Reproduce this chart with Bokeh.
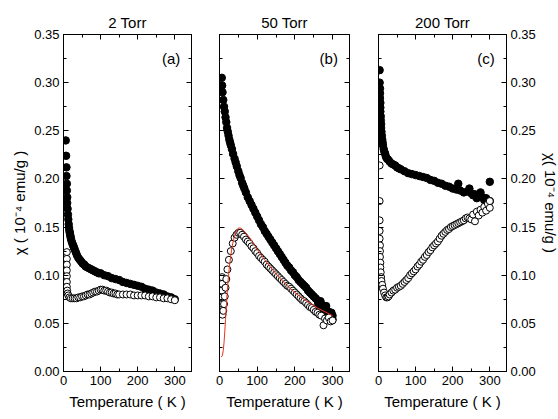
from bokeh.plotting import figure
from bokeh.layouts import row
from bokeh.models import Range1d, LinearAxis, FixedTicker, CustomJSTickFormatter, PrintfTickFormatter, Label
from bokeh.embed import file_html
from bokeh.resources import INLINE

FONT = "Liberation Sans"

titles = ["2 Torr", "50 Torr", "200 Torr"]
panel_tags = ["(a)", "(b)", "(c)"]
x_label = "Temperature ( K )"
y_label_left = "χ ( 10⁻⁴ emu/g )"
y_label_right = "χ( 10⁻⁴ emu/g )"
x_ticks = [0, 100, 200, 300]
x_minor = [50, 150, 250]
y_ticks = [0.00, 0.05, 0.10, 0.15, 0.20, 0.25, 0.30, 0.35]
y_minor = [0.025, 0.075, 0.125, 0.175, 0.225, 0.275, 0.325]

# panel (a) 2 Torr
Ta_fill = [6, 7, 8, 8, 9, 9, 10, 10, 11, 12, 13, 14, 15, 16, 17, 18, 19, 20, 22, 24, 26, 28, 30,
           33, 36, 40, 44, 48, 52, 56, 60, 65, 70, 75, 80, 85, 90, 95, 100,
           110, 120, 130, 140, 150, 160, 170, 180, 190, 200, 210, 220, 230,
           240, 250, 260, 270, 280, 290, 300]
Xa_fill = [0.240, 0.224, 0.212, 0.203, 0.195, 0.188, 0.181, 0.175, 0.169, 0.163, 0.158, 0.153,
           0.149, 0.146, 0.144, 0.142, 0.140, 0.138, 0.135, 0.133, 0.131, 0.129, 0.127,
           0.124, 0.121, 0.118, 0.116, 0.114, 0.112, 0.111, 0.109, 0.108, 0.107, 0.106, 0.105,
           0.104, 0.103, 0.102, 0.102,
           0.100, 0.099, 0.097, 0.096, 0.095, 0.093, 0.092, 0.091, 0.090, 0.089, 0.088, 0.086,
           0.085, 0.084, 0.082, 0.081, 0.080, 0.078, 0.077, 0.075]
Ta_open = [9, 9, 9, 9, 9, 9, 9, 10, 11, 13, 16, 20, 25, 30, 35,
           40, 45, 50, 55, 60, 65, 70, 75, 80, 85, 90, 95, 100, 105, 110, 115, 120, 125, 130,
           135, 140, 145, 150, 160, 170, 180, 190, 200, 210, 220, 230, 240, 250, 260, 270, 280, 290, 300]
Xa_open = [0.124, 0.117, 0.111, 0.105, 0.099, 0.093, 0.088, 0.084, 0.081, 0.079, 0.077, 0.076,
           0.076, 0.076, 0.076,
           0.077, 0.077, 0.078, 0.078, 0.079, 0.080, 0.080, 0.081, 0.082, 0.083, 0.083, 0.084,
           0.085, 0.085, 0.084, 0.084, 0.083, 0.082, 0.082, 0.081, 0.081, 0.080, 0.080,
           0.080, 0.080, 0.080, 0.079, 0.079, 0.079, 0.079, 0.078, 0.078, 0.077, 0.077, 0.076,
           0.076, 0.075, 0.074]

# panel (b) 50 Torr
Tb_fill = [6, 7, 8, 10, 12, 14, 16, 18, 20, 22, 24, 26, 28, 30, 33, 36, 40, 43, 46, 50, 53, 56,
           60, 63, 66, 70, 75, 80, 85, 90, 95, 100, 105, 110, 115, 120, 125, 130, 135, 140,
           145, 150, 155, 160, 165, 170, 175, 180, 185, 190, 195, 200, 205, 210, 215, 220,
           225, 230, 235, 240, 245, 250, 255, 260, 262, 265, 268, 270, 275, 278, 280, 283,
           285, 290, 292, 295, 297, 300, 300]
Xb_fill = [0.305, 0.297, 0.290, 0.282, 0.275, 0.270, 0.264, 0.259, 0.253, 0.249, 0.245, 0.241,
           0.238, 0.235, 0.231, 0.226, 0.221, 0.217, 0.213, 0.208, 0.204, 0.201,
           0.196, 0.193, 0.190, 0.186, 0.181, 0.177, 0.173, 0.169, 0.165, 0.161, 0.157, 0.153,
           0.150, 0.146, 0.143, 0.140, 0.137, 0.134, 0.131, 0.128, 0.125, 0.122, 0.119, 0.116,
           0.113, 0.110, 0.108, 0.105, 0.103, 0.100, 0.098, 0.095, 0.093, 0.091, 0.089, 0.087,
           0.084, 0.082, 0.080, 0.078, 0.076, 0.074, 0.071, 0.069, 0.073, 0.070, 0.066, 0.063,
           0.066, 0.068, 0.060, 0.062, 0.059, 0.056, 0.061, 0.058, 0.054]
Tb_open = [7, 7, 7, 7, 7, 7, 8, 10, 12, 14, 16, 18, 21, 25,
           30, 35, 40, 45, 50, 55, 60, 65, 70, 75, 80, 85, 90, 95, 100, 105, 110, 115, 120,
           125, 130, 135, 140, 145, 150, 155, 160, 165, 170, 175, 180, 185, 190, 195, 200,
           205, 210, 215, 220, 225, 230, 235, 240, 245, 250, 255, 260, 265, 270,
           276, 280, 285, 290, 295, 300]
Xb_open = [0.098, 0.091, 0.084, 0.077, 0.070, 0.064, 0.059, 0.063, 0.070, 0.078, 0.087, 0.096,
           0.106, 0.116,
           0.125, 0.133, 0.139, 0.142, 0.144, 0.144, 0.142, 0.140, 0.137, 0.135, 0.133, 0.130,
           0.128, 0.125, 0.123, 0.120, 0.118, 0.116, 0.114, 0.111, 0.109, 0.107, 0.105, 0.103,
           0.101, 0.099, 0.097, 0.095, 0.093, 0.091, 0.089, 0.088, 0.086, 0.084, 0.082, 0.080,
           0.078, 0.076, 0.074, 0.073, 0.071, 0.069, 0.067, 0.066, 0.064, 0.062, 0.061, 0.059,
           0.058, 0.048, 0.055, 0.053, 0.056, 0.052, 0.053]
Tb_fit = [5, 8, 10, 12, 14, 16, 18, 20, 23, 26, 30, 35, 40, 45, 50, 55, 60, 70, 80, 90, 100,
          120, 140, 160, 180, 200, 220, 240, 260, 280, 300]
Xb_fit = [0.015, 0.017, 0.022, 0.030, 0.041, 0.054, 0.067, 0.080, 0.095, 0.108, 0.121, 0.133, 0.141,
          0.146, 0.149, 0.149, 0.148, 0.144, 0.139, 0.133, 0.127,
          0.116, 0.106, 0.097, 0.089, 0.082, 0.076, 0.071, 0.066, 0.062, 0.058]

# panel (c) 200 Torr
Tc_fill = [3, 3, 4, 4, 4, 5, 5, 5, 6, 6, 7, 7, 8, 9, 10, 11, 12, 14, 16, 18, 20, 23, 26, 30,
           35, 40, 45, 50, 55, 60, 70, 80, 90, 100, 110, 120, 130, 140, 150, 160, 170, 180,
           190, 200, 210, 215, 220, 230, 240, 245, 250, 255, 260, 265, 270, 275, 280, 285,
           290, 295, 300, 300]
Xc_fill = [0.313, 0.300, 0.294, 0.289, 0.284, 0.279, 0.274, 0.270, 0.265, 0.261, 0.257, 0.253,
           0.249, 0.245, 0.241, 0.238, 0.235, 0.231, 0.228, 0.226, 0.223, 0.221, 0.220, 0.218,
           0.216, 0.215, 0.214, 0.212, 0.211, 0.210, 0.208, 0.206, 0.205, 0.204, 0.203, 0.202,
           0.201, 0.199, 0.198, 0.196, 0.195, 0.193, 0.192, 0.190, 0.189, 0.195, 0.188, 0.186,
           0.187, 0.190, 0.185, 0.183, 0.184, 0.180, 0.183, 0.186, 0.181, 0.178, 0.180, 0.176,
           0.177, 0.197]
Tc_open = [3, 3, 3, 3, 3, 4, 4, 4, 5, 5, 6, 7, 8, 10, 12, 15, 18, 21, 24, 27,
           30, 35, 40, 45, 50, 55, 60, 65, 70, 75, 80, 85, 90, 95, 100, 105, 110, 115, 120,
           125, 130, 135, 140, 145, 150, 155, 160, 165, 170, 175, 180, 185, 190, 195, 200,
           205, 210, 215, 220, 225, 230, 235, 240, 245, 250,
           255, 260, 265, 270, 275, 280, 285, 290, 295, 300, 300]
Xc_open = [0.214, 0.177, 0.157, 0.146, 0.138, 0.131, 0.125, 0.119, 0.113, 0.108, 0.103, 0.098,
           0.094, 0.090, 0.086, 0.082, 0.079, 0.077, 0.077, 0.078,
           0.080, 0.082, 0.084, 0.085, 0.087, 0.088, 0.089, 0.091, 0.093, 0.095, 0.097, 0.100,
           0.102, 0.104, 0.106, 0.109, 0.111, 0.114, 0.116, 0.119, 0.121, 0.124, 0.126, 0.129,
           0.131, 0.133, 0.135, 0.138, 0.141, 0.143, 0.145, 0.147, 0.148, 0.150, 0.151, 0.152,
           0.153, 0.154, 0.155, 0.156, 0.157, 0.159, 0.160, 0.159, 0.158,
           0.163, 0.156, 0.166, 0.162, 0.168, 0.165, 0.171, 0.167, 0.174, 0.170, 0.177]


def style_axis(ax, labeled, is_x):
    ax.ticker = FixedTicker(ticks=x_ticks if is_x else y_ticks,
                            minor_ticks=x_minor if is_x else y_minor)
    ax.axis_line_color = "black"
    ax.major_tick_line_color = "black"
    ax.minor_tick_line_color = "black"
    ax.major_tick_in = 5
    ax.major_tick_out = 0
    ax.minor_tick_in = 3
    ax.minor_tick_out = 0
    ax.major_label_text_font = FONT
    ax.major_label_text_font_size = "13px"
    ax.major_label_text_color = "black"
    ax.axis_label_text_font = FONT
    ax.axis_label_text_font_size = "15px"
    ax.axis_label_text_font_style = "normal"
    ax.axis_label_text_color = "black"
    if labeled:
        ax.major_label_standoff = 4
        ax.axis_label_standoff = 5 if is_x else 3
        if not is_x:
            ax.formatter = PrintfTickFormatter(format="%.2f")
    else:
        ax.formatter = CustomJSTickFormatter(code="return ''")
        ax.major_label_standoff = 0


def make_panel(i, frame_w, bl, br, left_lab, right_lab,
               T_fill, X_fill, T_open, X_open, T_fit=None, X_fit=None):
    p = figure(frame_width=frame_w, frame_height=337,
               x_range=Range1d(0, 345), y_range=Range1d(0, 0.35),
               output_backend="svg", toolbar_location=None,
               x_axis_location=None, y_axis_location=None,
               min_border_left=bl, min_border_right=br,
               min_border_top=34, min_border_bottom=44,
               title=titles[i])
    p.grid.visible = False
    p.outline_line_color = "black"
    p.background_fill_color = "white"
    p.border_fill_color = "white"
    p.title.align = "center"
    p.title.text_font = FONT
    p.title.text_font_size = "15px"
    p.title.text_font_style = "normal"
    p.title.text_color = "black"
    p.title.standoff = 8

    xb = LinearAxis(axis_label=x_label)
    style_axis(xb, True, True)
    p.add_layout(xb, "below")
    xt = LinearAxis()
    style_axis(xt, False, True)
    p.add_layout(xt, "above")

    yl = LinearAxis(axis_label=y_label_left if left_lab else None)
    style_axis(yl, left_lab, False)
    p.add_layout(yl, "left")
    yr = LinearAxis(axis_label=y_label_right if right_lab else None)
    style_axis(yr, right_lab, False)
    p.add_layout(yr, "right")

    p.scatter(T_fill, X_fill, marker="circle", size=7.5, fill_color="black", line_color="black")
    p.scatter(T_open, X_open, marker="circle", size=7, fill_color="white", line_color="black", line_width=1)
    if T_fit is not None:
        p.line(T_fit, X_fit, line_color="#e8341c", line_width=1)

    p.add_layout(Label(x=290, y=0.325, text=panel_tags[i], text_align="center",
                       text_baseline="middle", text_font=FONT, text_font_size="15px",
                       text_color="black"))
    return p


p1 = make_panel(0, 128, 63, 14, True, False, Ta_fill, Xa_fill, Ta_open, Xa_open)
p2 = make_panel(1, 130, 14, 14, False, False, Tb_fill, Xb_fill, Tb_open, Xb_open, Tb_fit, Xb_fit)
p3 = make_panel(2, 128, 15, 50, False, True, Tc_fill, Xc_fill, Tc_open, Xc_open)

layout = row(p1, p2, p3)
open("out.html", "w").write(file_html(layout, INLINE))
